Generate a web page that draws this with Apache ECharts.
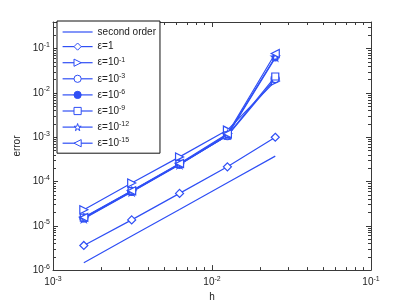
<!DOCTYPE html>
<html>
<head>
<meta charset="utf-8">
<script src="https://cdn.jsdelivr.net/npm/echarts@6/dist/echarts.min.js"></script>
<style>html,body{margin:0;padding:0;background:#fff}#c{width:409px;height:307px}</style>
</head>
<body>
<div id="c"></div>
<script>
// ---- data ----
var h = [0.025, 0.0125, 0.00625, 0.003125, 0.0015625];
var secondOrder = [3.75e-4, 9.4e-5, 2.34e-5, 5.9e-6, 1.46e-6];
var eps1      = [1.0e-3, 2.15e-4, 5.4e-5, 1.36e-5, 3.6e-6];
var eps1e_1   = [1.85e-2, 1.45e-3, 3.6e-4, 9.3e-5, 2.3e-5];
var eps1e_3   = [2.1e-2, 1.08e-3, 2.45e-4, 6.0e-5, 1.5e-5];
var eps1e_6   = [6.2e-2, 1.1e-3, 2.4e-4, 5.8e-5, 1.45e-5];
var eps1e_9   = [2.35e-2, 1.1e-3, 2.5e-4, 6.1e-5, 1.52e-5];
var eps1e_12  = [6.5e-2, 1.15e-3, 2.45e-4, 5.9e-5, 1.48e-5];
var eps1e_15  = [7.8e-2, 1.2e-3, 2.55e-4, 6.2e-5, 1.55e-5];
var seriesNames = ['second order', 'ε=1', 'ε=10^-1', 'ε=10^-3', 'ε=10^-6', 'ε=10^-9', 'ε=10^-12', 'ε=10^-15'];
var xMajor = [1e-3, 1e-2, 1e-1];
var xMinor = [2e-3,3e-3,4e-3,5e-3,6e-3,7e-3,8e-3,9e-3,2e-2,3e-2,4e-2,5e-2,6e-2,7e-2,8e-2,9e-2];
var yMajor = [1e-6, 1e-5, 1e-4, 1e-3, 1e-2, 1e-1];
var yMinor = [];
[1e-6,1e-5,1e-4,1e-3,1e-2,1e-1].forEach(function(d){[2,3,4,5,6,7,8,9].forEach(function(k){var v=+(k*d).toPrecision(3); if(v<=0.4) yMinor.push(v);});});

var BLUE = '#2f4ff5';
var AX = '#3a3a3a';
var FONT = 'Liberation Sans';

function powLabel(v){ var e = Math.round(Math.log10(v)); return '{b|10}{s|' + (e<0?'-':'') + Math.abs(e) + '}'; }
var labelRich = { b:{fontSize:10, fontFamily:FONT, color:'#222'}, s:{fontSize:7, fontFamily:FONT, color:'#222', verticalAlign:'top', padding:[0,0,7,0]} };

function mkX(pos, major, showLabel, tickVals, len){
  return { type:'log', logBase:10, min:1e-3, max:1e-1, position:pos, gridIndex:0,
    axisLine:{show:major, lineStyle:{color:AX, width:1}},
    axisTick:{show:true, inside:true, length:len, customValues:tickVals, lineStyle:{color:AX}},
    axisLabel:{show:showLabel, customValues:xMajor, formatter:powLabel, rich:labelRich, margin:5},
    splitLine:{show:false}, minorTick:{show:false},
    name: (showLabel ? 'h' : ''), nameLocation:'middle', nameGap:19,
    nameTextStyle:{fontFamily:FONT, fontSize:10, color:'#222'} };
}
function mkY(pos, major, showLabel, tickVals, len){
  return { type:'log', logBase:10, min:1e-6, max:0.4, position:pos, gridIndex:0,
    axisLine:{show:major, lineStyle:{color:AX, width:1}},
    axisTick:{show:true, inside:true, length:len, customValues:tickVals, lineStyle:{color:AX}},
    axisLabel:{show:showLabel, customValues:yMajor, formatter:powLabel, rich:labelRich, margin:3},
    splitLine:{show:false}, minorTick:{show:false},
    name: (showLabel ? 'error' : ''), nameLocation:'middle', nameGap:20,
    nameTextStyle:{fontFamily:FONT, fontSize:10, color:'#222'} };
}

var starPath = 'path://M50,0 L61,35 L98,35 L68,57 L79,91 L50,70 L21,91 L32,57 L2,35 L39,35 Z';
var defs = [
  {d:secondOrder, sym:'circle', noSym:true},
  {d:eps1, sym:'diamond', open:true},
  {d:eps1e_1, sym:'triangle', rot:-90, open:true},
  {d:eps1e_3, sym:'circle', open:true},
  {d:eps1e_6, sym:'circle', open:false, size:6},
  {d:eps1e_9, sym:'rect', open:true, size:7},
  {d:eps1e_12, sym:starPath, open:true},
  {d:eps1e_15, sym:'triangle', rot:90, open:true}
];
var series = defs.map(function(o,i){
  return { type:'line', name:seriesNames[i], xAxisIndex:0, yAxisIndex:0,
    data: h.map(function(x,j){ return [x, o.d[j]]; }),
    symbol:o.sym, symbolSize:o.size||8, symbolRotate:o.rot||0, showSymbol:!o.noSym,
    lineStyle:{color:BLUE, width:1.2},
    itemStyle: o.noSym ? {color:'rgba(0,0,0,0)', borderColor:'rgba(0,0,0,0)', borderWidth:0}
                       : {color:o.open===false?BLUE:'#fff', borderColor:BLUE, borderWidth:1.2},
    emphasis:{disabled:true}, animation:false, z:10+i };
});

function legendFmt(name){
  var m = name.match(/^ε=10\^(-?\d+)$/);
  if(m) return '{t|ε=10}{s|' + m[1] + '}';
  return '{t|' + name + '}';
}

var chart = echarts.init(document.getElementById('c'), null, {renderer:'canvas'});
chart.setOption({
  animation:false,
  backgroundColor:'#fff',
  grid:{left:53, right:38, top:22, bottom:35, containLabel:false},
  xAxis:[ mkX('bottom', true, true, xMajor, 5), mkX('bottom', false, false, xMinor, 3),
          mkX('top', true, false, xMajor, 5), mkX('top', false, false, xMinor, 3) ],
  yAxis:[ mkY('left', true, true, yMajor, 5), mkY('left', false, false, yMinor, 3),
          mkY('right', true, false, yMajor, 5), mkY('right', false, false, yMinor, 3) ],
  legend:{ orient:'vertical', left:57, top:21,
    backgroundColor:'#fff', borderColor:'#111', borderWidth:1, borderRadius:0,
    padding:[6,4,5,5], itemGap:4.6, itemWidth:30, itemHeight:9,
    lineStyle:{width:1.2}, itemStyle:{borderWidth:1},
    data:seriesNames, formatter:legendFmt, selectedMode:false,
    textStyle:{fontFamily:FONT, fontSize:10, color:'#222',
      rich:{ t:{fontSize:10, fontFamily:FONT, color:'#222'}, s:{fontSize:7, fontFamily:FONT, color:'#222', verticalAlign:'top', padding:[0,0,6,0]} } } },
  series:series
});
</script>
</body>
</html>
